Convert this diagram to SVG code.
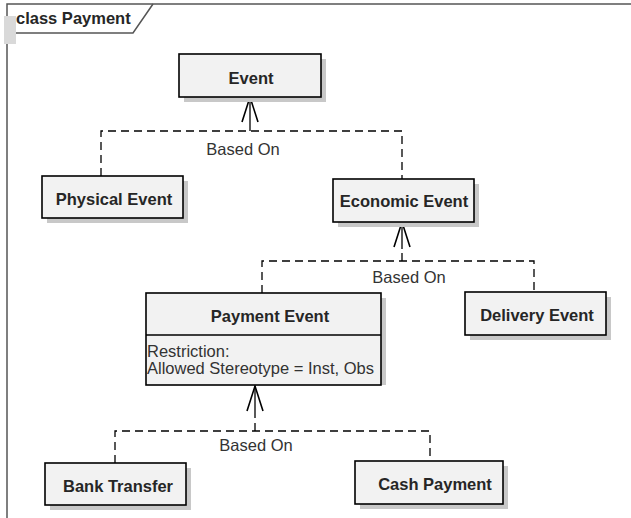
<svg xmlns="http://www.w3.org/2000/svg" width="631" height="518" viewBox="0 0 631 518">
<style>
  .box { fill: #f2f2f2; stroke: #000; stroke-width: 1.6; }
  .shadow { fill: #c8c8c8; }
  .name { font-family: "Liberation Sans", Arial, sans-serif; font-size: 16.5px; font-weight: bold; fill: #262626; text-anchor: middle; }
  .txt { font-family: "Liberation Sans", Arial, sans-serif; font-size: 16.5px; fill: #333; }
  .lbl { font-family: "Liberation Sans", Arial, sans-serif; font-size: 16.5px; fill: #333; text-anchor: middle; }
  .dash { fill: none; stroke: #000; stroke-width: 1.3; stroke-dasharray: 8 5; }
  .solid { fill: none; stroke: #000; stroke-width: 1.3; }
  .head { fill: none; stroke: #000; stroke-width: 1.6; }
  .frame { fill: none; stroke: #555; stroke-width: 1.5; }
</style>
<rect x="0" y="0" width="631" height="518" fill="#fff"/>
<g id="frame">
  <path class="frame" d="M7,518 V4 H631"/>
  <path class="frame" d="M7,33 H133 L153,4"/>
  <rect x="4" y="16" width="12" height="28" fill="#d9d9d9"/>
  <text x="16" y="24" class="name" style="text-anchor:start">class Payment</text>
</g>
<g id="connectors">
  <path class="dash" d="M101,176 V131 H402 V179"/>
  <path class="solid" d="M250,131 V97"/>
  <path class="head" d="M242,122 L250,97 L258,122"/>
  <text class="lbl" x="243" y="155">Based On</text>
  <path class="dash" d="M262,293 V261 H534 V292"/>
  <path class="solid" d="M402,249 V222"/>
  <path class="dash" d="M402,261 V249"/>
  <path class="head" d="M394,247 L402,222 L410,247"/>
  <text class="lbl" x="409" y="283">Based On</text>
  <path class="dash" d="M115,463 V431 H430 V461"/>
  <path class="solid" d="M255,413 V386"/>
  <path class="dash" d="M255,431 V413"/>
  <path class="head" d="M247,411 L255,386 L263,411"/>
  <text class="lbl" x="256" y="451">Based On</text>
</g>
<g id="event">
  <rect class="shadow" x="184" y="59" width="142" height="43"/>
  <rect class="box" x="179" y="54" width="142" height="43"/>
  <text class="name" x="251" y="84">Event</text>
</g>
<g id="physical-event">
  <rect class="shadow" x="47" y="181" width="141" height="42"/>
  <rect class="box" x="42" y="176" width="141" height="42"/>
  <text class="name" x="114" y="205">Physical Event</text>
</g>
<g id="economic-event">
  <rect class="shadow" x="338" y="184" width="141" height="43"/>
  <rect class="box" x="333" y="179" width="141" height="43"/>
  <text class="name" x="404" y="207">Economic Event</text>
</g>
<g id="payment-event">
  <rect class="shadow" x="381" y="298" width="5" height="87"/>
  <rect class="box" x="146" y="293" width="235" height="92"/>
  <line x1="146" y1="335" x2="381" y2="335" stroke="#000" stroke-width="1.6"/>
  <text class="name" x="270" y="322">Payment Event</text>
  <text class="txt" x="147" y="357">Restriction:</text>
  <text class="txt" x="147" y="374">Allowed Stereotype = Inst, Obs</text>
</g>
<g id="delivery-event">
  <rect class="shadow" x="470" y="297" width="141" height="43"/>
  <rect class="box" x="465" y="292" width="141" height="43"/>
  <text class="name" x="537" y="321">Delivery Event</text>
</g>
<g id="bank-transfer">
  <rect class="shadow" x="50" y="468" width="141" height="42"/>
  <rect class="box" x="45" y="463" width="141" height="42"/>
  <text class="name" x="118" y="492">Bank Transfer</text>
</g>
<g id="cash-payment">
  <rect class="shadow" x="360" y="466" width="148" height="43"/>
  <rect class="box" x="355" y="461" width="148" height="43"/>
  <text class="name" x="435" y="490">Cash Payment</text>
</g>
</svg>
